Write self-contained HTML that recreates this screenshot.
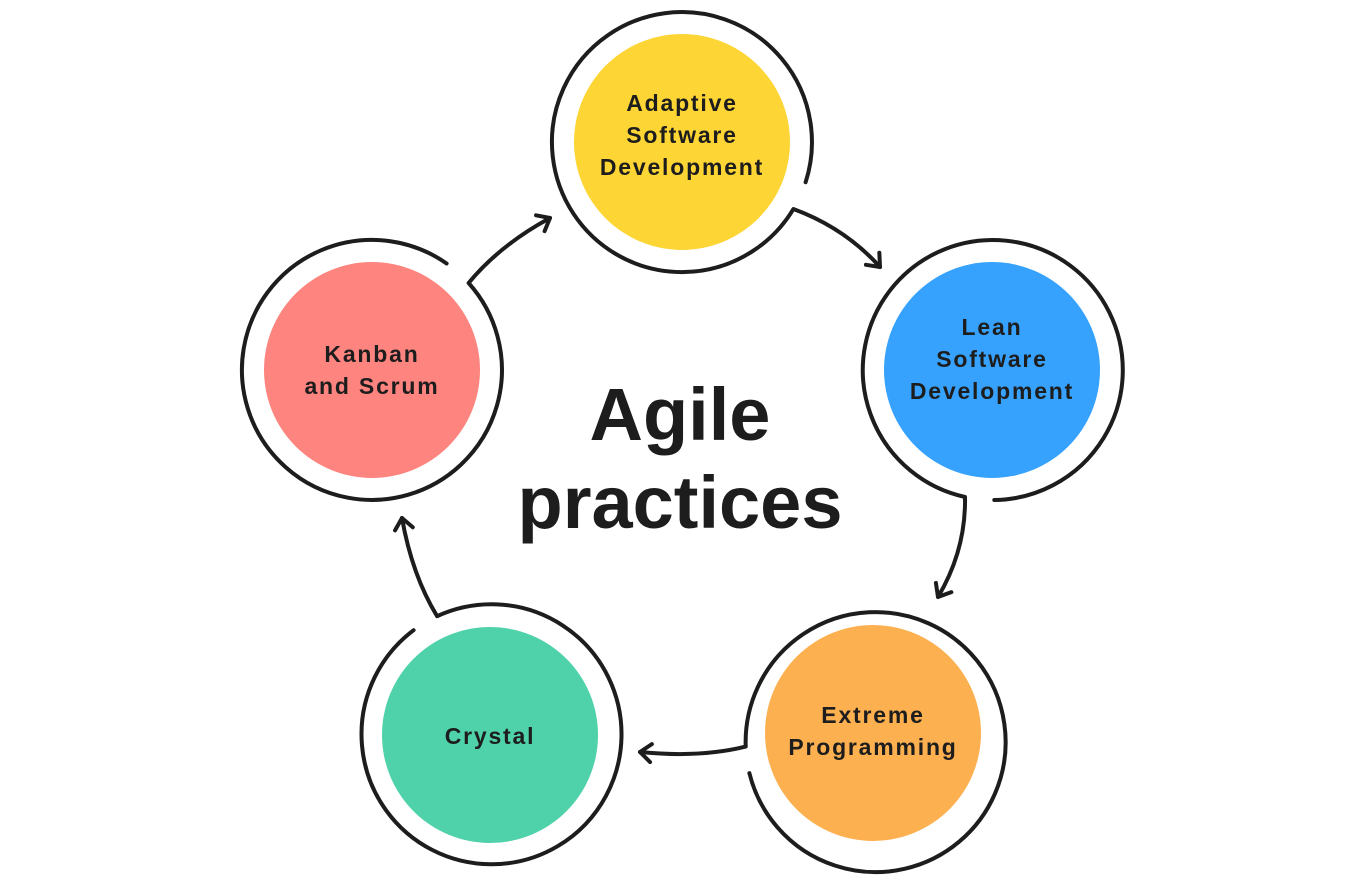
<!DOCTYPE html>
<html><head><meta charset="utf-8"><style>
html,body{margin:0;padding:0;background:#fff;}
svg{display:block;}
text{font-family:"Liberation Sans",sans-serif;font-weight:bold;fill:#1d1d1d;}
</style></head><body>
<svg width="1360" height="880" viewBox="0 0 1360 880" xmlns="http://www.w3.org/2000/svg">
<defs>
<marker id="ah" markerUnits="userSpaceOnUse" markerWidth="30" markerHeight="30" refX="0" refY="0" viewBox="-15 -15 30 30" orient="auto">
<path d="M-11,-9 L0,0 L-11,9" fill="none" stroke="#1d1d1d" stroke-width="4" stroke-linecap="round" stroke-linejoin="round"/>
</marker>
</defs>
<g fill="none" stroke="#1d1d1d" stroke-width="4" stroke-linecap="round" stroke-linejoin="round">
<path d="M805.6,182.2 A130,130 0 1 0 793.4,209 Q845,228 880,267" marker-end="url(#ah)"/>
<path d="M994.3,500 A130,130 0 1 0 965,497 Q966,550 938,597" marker-end="url(#ah)"/>
<path d="M749.4,773.2 A130,130 0 1 0 745.7,746.6 Q700,758 640,752" marker-end="url(#ah)"/>
<path d="M413.6,630.2 A130,130 0 1 0 437.1,616.2 Q412,575 402,518" marker-end="url(#ah)"/>
<path d="M446.6,263.5 A130,130 0 1 0 468.6,283 Q500,245 550,218" marker-end="url(#ah)"/>
</g>
<circle cx="682" cy="142" r="108" fill="#fdd535"/>
<circle cx="992" cy="370" r="108" fill="#37a2fd"/>
<circle cx="873" cy="733" r="108" fill="#fdb050"/>
<circle cx="490" cy="735" r="108" fill="#4fd2a9"/>
<circle cx="372" cy="370" r="108" fill="#fd847f"/>
<g font-size="23" text-anchor="middle" letter-spacing="1.8">
<text x="682" y="111">Adaptive</text>
<text x="682" y="143">Software</text>
<text x="682" y="175">Development</text>
<text x="992" y="335">Lean</text>
<text x="992" y="367">Software</text>
<text x="992" y="399">Development</text>
<text x="873" y="723">Extreme</text>
<text x="873" y="755">Programming</text>
<text x="490" y="744">Crystal</text>
<text x="372" y="362">Kanban</text>
<text x="372" y="394">and Scrum</text>
</g>
<g font-size="74" text-anchor="middle">
<text x="680" y="440">Agile</text>
<text x="680" y="528">practices</text>
</g>
</svg>
</body></html>
